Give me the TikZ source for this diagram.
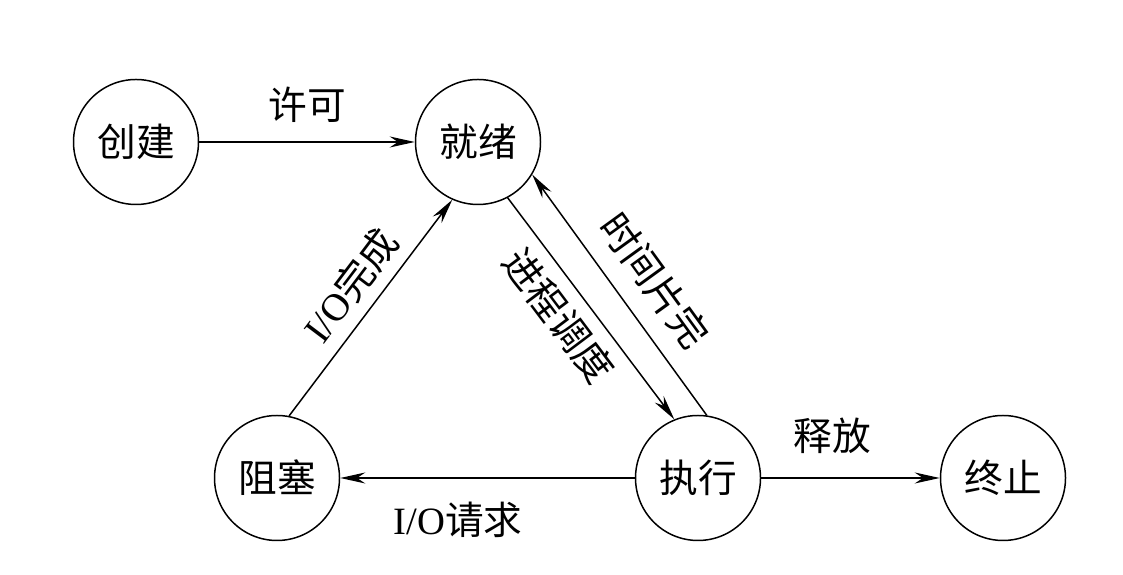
\documentclass[tikz,border=0pt]{standalone}
\usepackage{fontspec}
\setmainfont{Liberation Serif}
\newfontfamily\cjk{Noto Sans CJK SC}
\usepackage{tikz}
\usetikzlibrary{arrows.meta,positioning}

\begin{document}
\begin{tikzpicture}[line width=0.85pt,
    proc/.style={circle,draw,minimum size=2.5cm,inner sep=0pt,font=\fontsize{22pt}{26pt}\selectfont\cjk},
    lbl/.style={font=\fontsize{22pt}{26pt}\selectfont,inner sep=2pt},
    every edge/.style={draw,-{Stealth[length=5mm,width=2.2mm]}}]
    \useasboundingbox (0,0) rectangle (22.46,11.5);
        \node[proc] (create) at (2.72,8.66) {创建};
        \node[proc] (ready) at (9.56,8.66) {就绪};
        \node[proc] (blocked) at (5.54,1.94) {阻塞};
        \node[proc] (run) at (13.96,1.94) {执行};
        \node[proc] (done) at (20.06,1.94) {终止};
        \draw (create) edge node[lbl,above=3mm] {\cjk 许可} (ready);
        \draw (blocked.79) edge node[lbl,above=1.5mm,sloped,pos=0.52] {I/O\cjk 完成} (ready.-114);
        \draw (ready.-62) edge node[lbl,below=1.5mm,sloped,pos=0.45] {\cjk 进程调度} (run.112);
        \draw (run.82) edge node[lbl,above=3mm,sloped,pos=0.47] {\cjk 时间片完} (ready.-31);
        \draw (run) edge node[lbl,below=4mm,pos=0.6] {I/O\cjk 请求} (blocked);
        \draw (run) edge node[lbl,above=4mm,pos=0.4] {\cjk 释放} (done);
    \end{tikzpicture}
\end{document}
